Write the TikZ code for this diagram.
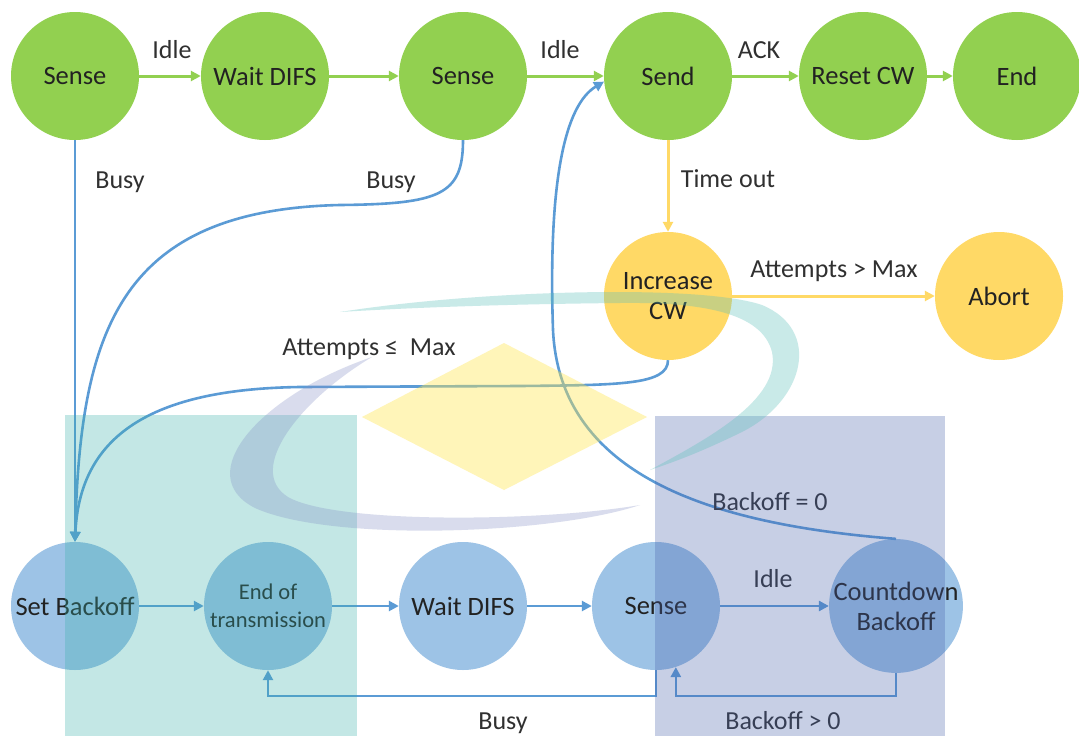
\documentclass[tikz,border=0pt]{standalone}
\usepackage{fontspec}
\setmainfont{Carlito}
\usetikzlibrary{arrows.meta}
\definecolor{gfill}{HTML}{92D050}
\definecolor{yfill}{HTML}{FFD966}
\definecolor{bfill}{HTML}{9DC3E6}
\definecolor{bline}{HTML}{5B9BD5}
\definecolor{txt}{HTML}{222222}
\definecolor{lbltxt}{HTML}{303030}
\definecolor{wmteal}{RGB}{59,178,172}
\definecolor{wmblue}{RGB}{72,98,172}
\definecolor{wmyellow}{RGB}{255,230,80}
\definecolor{wmpurple}{RGB}{130,142,197}
\definecolor{wmcyan}{RGB}{92,192,187}
\begin{document}
\begin{tikzpicture}[x=1pt,y=-1pt,
  state/.style={circle, minimum size=128pt, inner sep=0pt, text=txt,
    font=\fontsize{26.5}{30}\selectfont, align=center},
  gstate/.style={state, fill=gfill},
  ystate/.style={state, fill=yfill},
  bstate/.style={state, fill=bfill},
  lbl/.style={text=lbltxt, font=\fontsize{26}{30}\selectfont, inner sep=0pt, anchor=base},
  tip/.style={-{Triangle[length=10pt,width=10pt]}},
  gline/.style={draw=gfill, line width=3pt, tip},
  yline/.style={draw=yfill, line width=3pt, tip},
  bl/.style={draw=bline, line width=2.6pt, tip}
]
\fill[white] (0,0) rectangle (1079,736);
\useasboundingbox (0,0) rectangle (1079,736);

% nodes
\node[gstate] (s1) at (75,76) {Sense};
\node[gstate] (w1) at (265,76) {Wait DIFS};
\node[gstate] (s2) at (463,76) {Sense};
\node[gstate] (send) at (668,76) {Send};
\node[gstate] (rcw) at (863,76) {Reset CW};
\node[gstate] (end) at (1017,76) {End};
\node[ystate] (inc) at (668,296) {Increase\\CW};
\node[ystate] (abort) at (999,296) {Abort};
\node[bstate] (sb) at (75,606) {Set Backoff};
\node[bstate, font=\fontsize{22.5}{28}\selectfont] (eot) at (268,606) {End of\\transmission};
\node[bstate] (w2) at (463,606) {Wait DIFS};
\node[bstate] (se) at (656,606) {Sense};
\node[bstate] (cd) at (896,606) {Countdown\\Backoff};
\coordinate (bot) at (0,696);

% edges
\draw[gline] (s1) -- (w1);
\draw[gline] (w1) -- (s2);
\draw[gline] (s2) -- (send);
\draw[gline] (send) -- (rcw);
\draw[gline] (rcw) -- (end);
\draw[yline] (send) -- (inc);
\draw[yline] (inc) -- (abort);
\draw[bl] (s1) -- (sb);
\draw[bl] (s2.south) .. controls (463,195) and (440,204) .. (340,205) .. controls (120,210) and (80,330) .. (sb.north);
\draw[bl] (inc.south) .. controls (668,385) and (620,385) .. (520,386) -- (300,387) .. controls (160,389) and (80,430) .. (sb.north);
\draw[bl] (sb) -- (eot);
\draw[bl] (eot) -- (w2);
\draw[bl] (w2) -- (se);
\draw[bl] (se) -- (cd);
\draw[bl] (cd.north) .. controls (720,525) and (560,480) .. (553,330) .. controls (548,180) and (565,105) .. (send.185);
\draw[bl] (se.south) -- (se.south |- bot) -| (eot.south);
\draw[bl] (cd.south) -- (cd.south |- bot) -| (se.-72);

% labels
\node[lbl] (l1) at (172,58) {Idle};
\node[lbl] (l2) at (560,58) {Idle};
\node[lbl] (l3) at (759,58) {ACK};
\node[lbl] (l4) at (120,188) {Busy};
\node[lbl] (l5) at (391,188) {Busy};
\node[lbl] (l6) at (728,187) {Time out};
\node[lbl] (l7) at (834,277) {Attempts > Max};
\node[lbl] (l8) at (369,355) {Attempts ≤\ \ Max};
\node[lbl] (l9) at (770,510) {Backoff = 0};
\node[lbl] (l10) at (773,587) {Idle};
\node[lbl] (l11) at (503,729) {Busy};
\node[lbl] (l12) at (783,729) {Backoff > 0};

% watermark overlay
\fill[wmteal, opacity=0.3] (65,415) rectangle (357,736);
\fill[wmblue, opacity=0.3] (655,416) rectangle (945,736);
\fill[wmyellow, opacity=0.4] (362,417) -- (504,343) -- (647,417) -- (504,490) -- cycle;
\fill[wmpurple, opacity=0.3] (372,357) .. controls (260,395) and (190,475) .. (255,508)
  .. controls (330,542) and (550,535) .. (640,505)
  .. controls (540,522) and (335,524) .. (288,497)
  .. controls (245,470) and (300,400) .. (372,357) -- cycle;
\fill[wmcyan, opacity=0.33] (340,312) .. controls (480,290) and (700,284) .. (762,305)
  .. controls (822,330) and (805,400) .. (742,432)
  .. controls (705,450) and (680,460) .. (650,470)
  .. controls (705,440) and (782,400) .. (772,352)
  .. controls (762,312) and (700,302) .. (620,303)
  .. controls (520,304) and (420,307) .. (340,312) -- cycle;
\end{tikzpicture}
\end{document}
